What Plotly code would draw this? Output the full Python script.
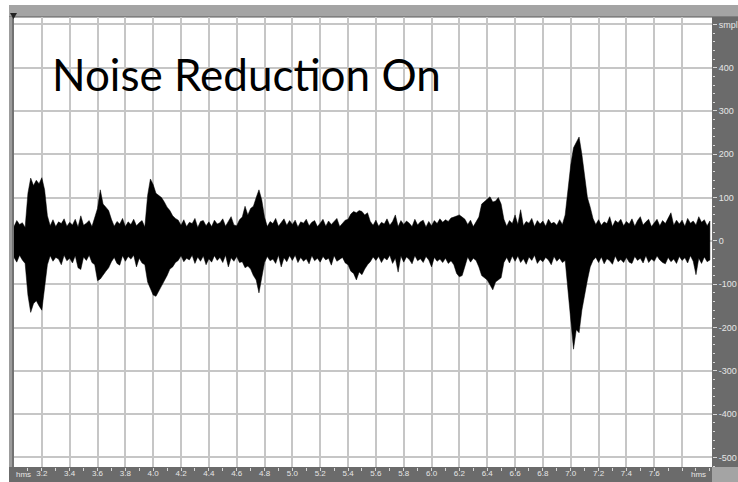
import plotly.graph_objects as go

# time axis (seconds) sampled every 0.02 s from 3.00 to 8.00
t0 = 3.0
dt = 0.02
# upper envelope of the waveform (samples), one row per 0.2 s grid cell
upper = [
    33, 47, 38, 42, 31, 110, 145, 128, 140, 132,
    146, 118, 58, 35, 49, 33, 44, 40, 51, 34,
    43, 37, 50, 32, 58, 36, 41, 47, 33, 52,
    75, 118, 85, 78, 70, 50, 34, 45, 39, 52,
    33, 44, 38, 50, 35, 42, 47, 32, 105, 143,
    130, 110, 105, 100, 90, 78, 70, 58, 52, 48,
    36, 49, 33, 43, 40, 52, 31, 45, 47, 35,
    44, 33, 48, 39, 42, 51, 34, 46, 56, 37,
    35, 49, 55, 80, 60, 75, 80, 100, 118, 95,
    55, 33, 45, 40, 52, 34, 43, 51, 36, 47,
    38, 48, 32, 44, 41, 50, 35, 43, 47, 33,
    41, 50, 34, 46, 38, 44, 52, 33, 40, 48,
    50, 62, 68, 65, 70, 68, 60, 65, 45, 36,
    48, 34, 43, 39, 51, 36, 45, 60, 33, 47,
    38, 46, 41, 33, 50, 37, 44, 48, 32, 45,
    35, 47, 40, 51, 43, 49, 45, 53, 55, 58,
    60, 55, 50, 38, 48, 33, 44, 55, 85, 90,
    95, 102, 90, 92, 100, 85, 50, 34, 47, 40,
    60, 38, 72, 35, 45, 41, 52, 33, 47, 39,
    46, 34, 50, 40, 43, 36, 49, 38, 60, 125,
    175, 215, 228, 240, 200, 145, 100, 78, 52, 38,
    49, 36, 44, 40, 56, 33, 47, 42, 50, 35,
    45, 39, 51, 34, 47, 56, 37, 44, 50, 33,
    42, 50, 35, 47, 40, 53, 65, 36, 48, 39,
    48, 34, 52, 41, 46, 37, 56, 43, 49, 35,
    46,
]
# lower envelope of the waveform (samples)
lower = [
    -38, -49, -33, -44, -52, -125, -165, -145, -138, -150,
    -160, -112, -55, -34, -47, -38, -42, -55, -33, -46,
    -40, -51, -34, -62, -66, -37, -45, -33, -50, -55,
    -92, -88, -80, -70, -62, -48, -38, -52, -56, -34,
    -47, -36, -42, -33, -60, -40, -51, -55, -95, -110,
    -125, -128, -115, -105, -92, -80, -65, -60, -50, -45,
    -34, -48, -40, -44, -33, -52, -37, -47, -35, -55,
    -41, -49, -34, -45, -38, -50, -33, -60, -39, -47,
    -36, -50, -48, -62, -58, -65, -80, -90, -120, -85,
    -50, -36, -46, -42, -52, -33, -60, -39, -48, -34,
    -45, -33, -50, -38, -47, -41, -53, -34, -46, -40,
    -49, -36, -44, -40, -56, -34, -47, -43, -38, -51,
    -55, -70, -75, -90, -72, -78, -65, -55, -48, -37,
    -45, -36, -50, -39, -44, -33, -52, -40, -72, -35,
    -49, -37, -43, -53, -34, -46, -41, -50, -36, -44,
    -60, -38, -47, -42, -50, -40, -52, -46, -55, -75,
    -83, -80, -60, -37, -49, -40, -45, -60, -80, -85,
    -90, -100, -113, -95, -90, -85, -50, -38, -51, -35,
    -47, -35, -50, -41, -54, -37, -45, -33, -52, -43,
    -48, -38, -44, -55, -36, -47, -40, -50, -45, -120,
    -180, -250, -205, -212, -160, -125, -90, -60, -45, -38,
    -50, -37, -53, -41, -46, -54, -35, -48, -43, -50,
    -38, -49, -52, -36, -45, -40, -51, -34, -50, -42,
    -47, -35, -44, -50, -53, -38, -48, -42, -52, -36,
    -45, -39, -51, -34, -47, -78, -40, -52, -37, -48,
    -44,
]
times = [round(t0 + dt * i, 2) for i in range(len(upper))]

x_ticks = [3.0, 3.2, 3.4, 3.6, 3.8, 4.0, 4.2, 4.4, 4.6, 4.8, 5.0, 5.2, 5.4,
           5.6, 5.8, 6.0, 6.2, 6.4, 6.6, 6.8, 7.0, 7.2, 7.4, 7.6, 7.8]
x_labels = ["", "3.2", "3.4", "3.6", "3.8", "4.0", "4.2", "4.4", "4.6", "4.8",
            "5.0", "5.2", "5.4", "5.6", "5.8", "6.0", "6.2", "6.4", "6.6",
            "6.8", "7.0", "7.2", "7.4", "7.6", ""]
y_ticks = [500, 400, 300, 200, 100, 0, -100, -200, -300, -400, -500]
y_labels = ["smpl", "400", "300", "200", "100", "0", "-100", "-200", "-300",
            "-400", "-500"]
title_text = "Noise Reduction On"
unit_label = "hms"

W, H = 738, 482
L, R, T, B = 14, 712, 17, 467


def px(xp):
    return (xp - L) / (R - L)


def py(yp):
    return (B - yp) / (B - T)


fig = go.Figure()
fig.add_trace(go.Scatter(
    x=times + times[::-1],
    y=upper + lower[::-1],
    mode="lines",
    fill="toself",
    fillcolor="black",
    line=dict(color="black", width=0.5),
    hoverinfo="skip",
    showlegend=False,
))

panel = "#6b6b6b"
shapes = [
    # top bar
    dict(type="rect", xref="paper", yref="paper", x0=px(9), x1=px(W),
         y0=py(17), y1=py(5), fillcolor="#a4a4a4", line=dict(width=0),
         layer="below"),
    dict(type="line", xref="paper", yref="paper", x0=px(9), x1=px(W),
         y0=py(17), y1=py(17), line=dict(color="#5a5a5a", width=1),
         layer="below"),
    # right panel
    dict(type="rect", xref="paper", yref="paper", x0=px(R), x1=px(W),
         y0=py(B), y1=py(T), fillcolor=panel, line=dict(width=0),
         layer="below"),
    # bottom bar
    dict(type="rect", xref="paper", yref="paper", x0=px(9), x1=px(R),
         y0=py(H), y1=py(B), fillcolor=panel, line=dict(width=0),
         layer="below"),
    # corner
    dict(type="rect", xref="paper", yref="paper", x0=px(R), x1=px(W),
         y0=py(H), y1=py(B), fillcolor="#a4a4a4", line=dict(width=0),
         layer="below"),
    # left strip
    dict(type="rect", xref="paper", yref="paper", x0=px(9), x1=px(L),
         y0=py(B), y1=py(T), fillcolor="#9c9c9c", line=dict(width=0),
         layer="below"),
    dict(type="line", xref="paper", yref="paper", x0=px(13), x1=px(13),
         y0=py(B), y1=py(T), line=dict(color="#4a4a4a", width=1),
         layer="below"),
    # marker triangle
    dict(type="path", xref="paper", yref="paper",
         path=f"M {px(10)} {py(13)} L {px(17)} {py(13)} L {px(13.5)} {py(19)} Z",
         fillcolor="#222222", line=dict(width=0), layer="above"),
]

annotations = [
    dict(text=title_text, xref="paper", yref="paper", x=px(50), y=py(46),
         xanchor="left", yanchor="top", showarrow=False,
         font=dict(family="Lato", size=44, color="black")),
    dict(text=unit_label, xref="paper", yref="paper", x=px(14), y=py(474.5),
         xanchor="left", yanchor="middle", showarrow=False,
         font=dict(family="Liberation Sans", size=8, color="#e6e6e6")),
    dict(text=unit_label, xref="paper", yref="paper", x=px(708), y=py(474.5),
         xanchor="right", yanchor="middle", showarrow=False,
         font=dict(family="Liberation Sans", size=8, color="#e6e6e6")),
]

grid = "#c6c6c6"
fig.update_layout(
    width=W, height=H,
    margin=dict(l=L, r=W - R, t=T, b=H - B, pad=0),
    paper_bgcolor="white",
    plot_bgcolor="white",
    shapes=shapes,
    annotations=annotations,
    showlegend=False,
    xaxis=dict(
        range=[3.0, 8.015], tickmode="array", tickvals=x_ticks,
        ticktext=x_labels, showgrid=True, gridcolor=grid, gridwidth=1.5,
        zeroline=False, ticks="inside", ticklen=2, tickcolor=grid,
        tickfont=dict(family="Liberation Sans", size=8, color="#e6e6e6"),
        minor=dict(dtick=0.1, tick0=3.0, ticks="outside", ticklen=3,
                   tickcolor="#d8d8d8", showgrid=False),
        showline=False, fixedrange=True, automargin=False,
    ),
    yaxis=dict(
        range=[-522, 517], side="right", tickmode="array", tickvals=y_ticks,
        ticktext=y_labels, showgrid=True, gridcolor=grid, gridwidth=1.5,
        zeroline=False, ticks="outside", ticklen=4, tickcolor="#d8d8d8",
        tickfont=dict(family="Liberation Sans", size=9, color="#e6e6e6"),
        minor=dict(dtick=20, tick0=0, ticks="outside", ticklen=2,
                   tickcolor="#d8d8d8", showgrid=False),
        showline=False, fixedrange=True, automargin=False,
    ),
)

fig.write_html(
    "out.html",
    config={"displayModeBar": False},
    post_script="document.body.style.margin='0';document.body.style.overflow='hidden';",
)
